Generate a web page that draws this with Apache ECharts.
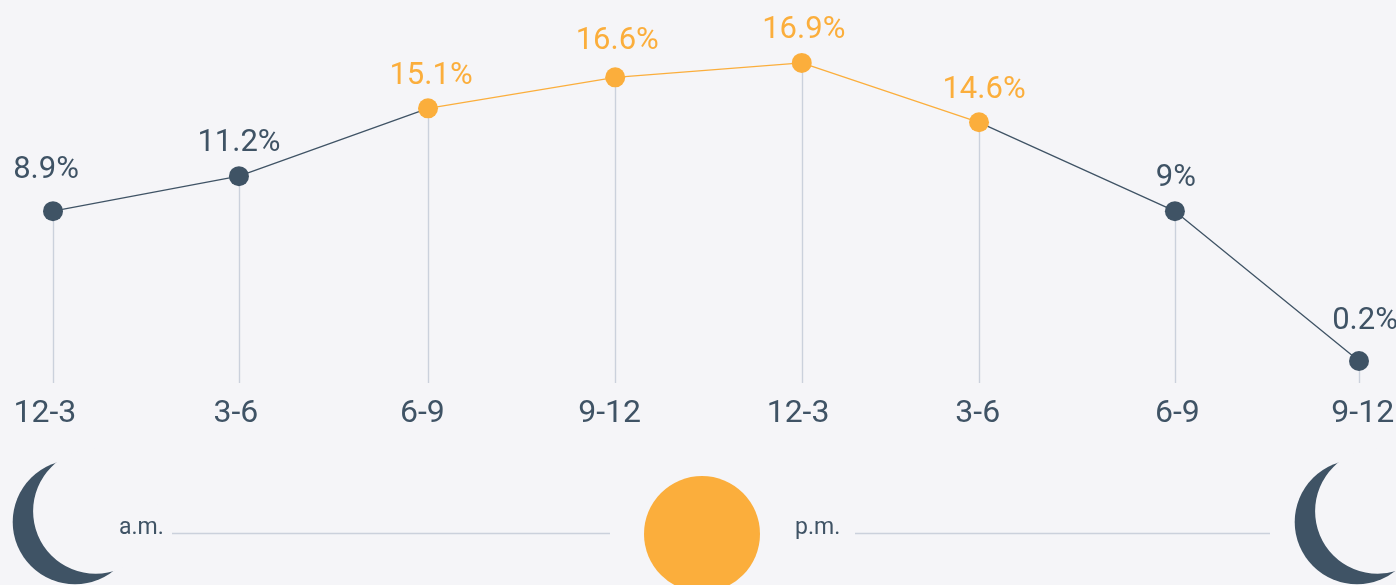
<!DOCTYPE html>
<html><head><meta charset="utf-8">
<style>html,body{margin:0;padding:0;background:#f5f5f8;overflow:hidden}#c{width:1396px;height:585px}</style>
<script src="https://cdn.jsdelivr.net/npm/echarts@6/dist/echarts.min.js"></script>
</head><body><div id="c"></div>
<script>
// Data
const tickLabels = ['12-3','3-6','6-9','9-12','12-3','3-6','6-9','9-12'];
const valueLabels = ['8.9%','11.2%','15.1%','16.6%','16.9%','14.6%','9%','0.2%'];
// Position of each slot on the time axis (hours from first slot), as drawn
const slotHours = [0, 2.99, 6.03, 9.04, 12.04, 14.89, 18.04, 21];
// Drawn height of each point (the source's heights do not follow the printed percentages exactly)
const drawnHeights = [8.9, 10.93, 14.87, 16.67, 17.51, 14.06, 8.9, 0.2];
const daytimeSlots = [2, 3, 4, 5];
const tickLabelHours = [-0.13, 2.94, 5.94, 8.95, 11.98, 14.87, 18.08, 21.06];

// Styling / layout
const DARK = '#3f5365', ORANGE = '#fbae3c', RULE = '#cbd1dc', BG = '#f5f5f8';
const FONT = 'Roboto';
const labelNudge = [[-7,-8],[0,0],[3,0],[2,-4],[2,0],[5,0],[1,0],[6,-7]];
const Y_MIN = -1.08, Y_MAX = 20;

const isDay = i => daytimeSlots.includes(i);
const pts = slotHours.map((h,i)=>[h,drawnHeights[i]]);
const pointData = pts.map((p,i)=>({
  value:p,
  itemStyle:{color:isDay(i)?ORANGE:DARK,opacity:1},
  label:{formatter:valueLabels[i],color:isDay(i)?ORANGE:DARK,offset:labelNudge[i]}
}));
const moonAt = dx => [
  {type:'circle',shape:{cx:75+dx,cy:522,r:62.3},silent:true,style:{fill:DARK}},
  {type:'circle',shape:{cx:95.7+dx,cy:511.2,r:62.6},silent:true,style:{fill:BG}}
];

const chart = echarts.init(document.getElementById('c'),null,{renderer:'canvas'});
chart.setOption({
  animation:false,
  backgroundColor:BG,
  grid:{left:53,right:37,top:20,bottom:202},
  xAxis:{type:'value',min:0,max:21,show:false},
  yAxis:{type:'value',min:Y_MIN,max:Y_MAX,show:false},
  series:[
    {type:'line',silent:true,symbol:'none',clip:false,
     data:[],
     lineStyle:{width:0},
     markLine:{silent:true,symbol:'none',label:{show:false},animation:false,
       lineStyle:{color:RULE,width:1.4,type:'solid'},
       data:pts.map(p=>[{coord:[p[0],Y_MIN]},{coord:p}])}},
    {type:'line',silent:true,symbol:'none',clip:false,z:3,
     lineStyle:{color:DARK,width:1.3},
     data:pts.map((p,i)=>(i<=daytimeSlots[0]||i>=daytimeSlots[daytimeSlots.length-1])?p:[p[0],null]),
     connectNulls:false},
    {type:'line',silent:true,symbol:'none',clip:false,z:3,
     lineStyle:{color:ORANGE,width:1.3},
     data:pts.filter((p,i)=>isDay(i))},
    {type:'scatter',silent:true,clip:false,z:5,symbol:'circle',symbolSize:20,
     data:pointData,
     label:{show:true,position:'top',distance:7,fontFamily:FONT,fontSize:31,fontWeight:400}},
    {type:'scatter',silent:true,clip:false,symbol:'circle',symbolSize:0,
     itemStyle:{opacity:1},
     data:tickLabelHours.map((h,i)=>({value:[h,Y_MIN],label:{formatter:tickLabels[i]}})),
     label:{show:true,position:'bottom',distance:15,fontFamily:FONT,fontSize:32,color:DARK}}
  ],
  graphic:[
    ...moonAt(0), ...moonAt(1282),
    {type:'circle',shape:{cx:702,cy:534,r:58},silent:true,style:{fill:ORANGE}},
    {type:'line',shape:{x1:172,y1:533.5,x2:610,y2:533.5},silent:true,style:{stroke:RULE,lineWidth:1.3}},
    {type:'line',shape:{x1:855,y1:533.5,x2:1270,y2:533.5},silent:true,style:{stroke:RULE,lineWidth:1.3}},
    {type:'text',x:119,y:517,silent:true,style:{text:'a.m.',fill:DARK,font:'400 23px '+FONT}},
    {type:'text',x:795,y:517,silent:true,style:{text:'p.m.',fill:DARK,font:'400 23px '+FONT}}
  ]
});
</script></body></html>
